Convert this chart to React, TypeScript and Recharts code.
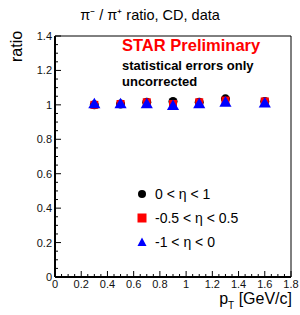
import { ScatterChart, Scatter, XAxis, YAxis, ZAxis, ErrorBar } from "recharts";

const PT = [0.3, 0.5, 0.7, 0.9, 1.1, 1.3, 1.6];
const ETA_POS = [1.0, 1.005, 1.015, 1.02, 1.015, 1.035, 1.02];
const ETA_MID = [1.0, 1.005, 1.015, 1.005, 1.015, 1.025, 1.02];
const ETA_NEG = [1.0, 1.0, 1.0, 0.99, 1.0, 1.01, 1.005];
const ERR = [0.005, 0.005, 0.006, 0.006, 0.006, 0.007, 0.007];

const X_TICKS = [0, 0.05, 0.1, 0.15, 0.2, 0.25, 0.3, 0.35, 0.4, 0.45, 0.5, 0.55, 0.6, 0.65, 0.7, 0.75, 0.8, 0.85, 0.9, 0.95, 1, 1.05, 1.1, 1.15, 1.2, 1.25, 1.3, 1.35, 1.4, 1.45, 1.5, 1.55, 1.6, 1.65, 1.7, 1.75, 1.8];
const Y_TICKS = [0, 0.05, 0.1, 0.15, 0.2, 0.25, 0.3, 0.35, 0.4, 0.45, 0.5, 0.55, 0.6, 0.65, 0.7, 0.75, 0.8, 0.85, 0.9, 0.95, 1, 1.05, 1.1, 1.15, 1.2, 1.25, 1.3, 1.35, 1.4];

const LEGEND = [
  { label: "0 < \u03b7 < 1", color: "#000", shape: "circle" },
  { label: "-0.5 < \u03b7 < 0.5", color: "#f00", shape: "square" },
  { label: "-1 < \u03b7 < 0", color: "#00f", shape: "triangle" },
];

const font = "'Liberation Sans', Arial, sans-serif";

const toRows = (ys: number[]) => PT.map((x, i) => ({ x, y: ys[i], err: ERR[i] }));

// major tick every 0.2, minor every 0.05; ticks point into the frame
const isMajor = (v: number) => Math.abs(v * 5 - Math.round(v * 5)) < 1e-6;

function XTick(props: any) {
  const { x, y, payload } = props;
  const major = isMajor(payload.value);
  return (
    <g>
      <line x1={x} x2={x} y1={y} y2={y - (major ? 6 : 3)} stroke="#000" />
      {major && (
        <text x={x} y={y + 11} textAnchor="middle" fontSize={11} fill="#111" fontFamily={font}>
          {payload.value}
        </text>
      )}
    </g>
  );
}

function YTick(props: any) {
  const { x, y, payload } = props;
  const major = isMajor(payload.value);
  return (
    <g>
      <line x1={x} x2={x + (major ? 6 : 3)} y1={y} y2={y} stroke="#000" />
      {major && (
        <text x={x - 3} y={y + 4} textAnchor="end" fontSize={11} fill="#111" fontFamily={font}>
          {payload.value}
        </text>
      )}
    </g>
  );
}

function Marker({ shape, color }: { shape: string; color: string }) {
  return (
    <svg width={12} height={12} style={{ display: "block" }}>
      {shape === "circle" && <circle cx={6} cy={6} r={4} fill={color} />}
      {shape === "square" && <rect x={1.5} y={1.5} width={9} height={9} fill={color} />}
      {shape === "triangle" && <polygon points="6,1.5 10.5,10 1.5,10" fill={color} />}
    </svg>
  );
}

export default function App() {
  return (
    <div style={{ position: "absolute", left: 0, top: 0, width: 300, height: 315, background: "#fff", fontFamily: font }}>
      <ScatterChart width={300} height={315} margin={{ top: 35, right: 8, bottom: 0, left: 0 }}>
        <XAxis xAxisId="main" type="number" dataKey="x" domain={[0, 1.8]} ticks={X_TICKS} interval={0} height={38}
          axisLine={{ stroke: "#000", strokeWidth: 2 }} tickSize={0} tickMargin={0} tickLine={false} tick={<XTick />} allowDataOverflow />
        <XAxis xAxisId="top" orientation="top" type="number" domain={[0, 1.8]} height={1}
          axisLine={{ stroke: "#000" }} tick={false} tickLine={false} />
        <YAxis yAxisId="main" type="number" dataKey="y" domain={[0, 1.4]} ticks={Y_TICKS} interval={0} width={55}
          axisLine={{ stroke: "#000", strokeWidth: 2 }} tickSize={0} tickMargin={0} tickLine={false} tick={<YTick />} allowDataOverflow />
        <YAxis yAxisId="right" orientation="right" type="number" domain={[0, 1.4]} width={1}
          axisLine={{ stroke: "#000" }} tick={false} tickLine={false} />
        <ZAxis range={[80, 80]} />
        <Scatter xAxisId="main" yAxisId="main" data={toRows(ETA_POS)} fill="#000" shape="circle" isAnimationActive={false}>
          <ErrorBar dataKey="err" direction="y" width={0} stroke="#000" />
        </Scatter>
        <Scatter xAxisId="main" yAxisId="main" data={toRows(ETA_MID)} fill="#f00" shape="square" isAnimationActive={false}>
          <ErrorBar dataKey="err" direction="y" width={0} stroke="#f00" />
        </Scatter>
        <Scatter xAxisId="main" yAxisId="main" data={toRows(ETA_NEG)} fill="#00f" shape="triangle" isAnimationActive={false}>
          <ErrorBar dataKey="err" direction="y" width={0} stroke="#66f" />
        </Scatter>
      </ScatterChart>

      <div style={{ position: "absolute", left: 0, width: 300, top: 4, textAlign: "center", fontSize: 14.5 }}>
        {"\u03c0\u207b / \u03c0\u207a ratio, CD, data"}
      </div>
      <div style={{ position: "absolute", left: 8, top: 62, fontSize: 16, transform: "rotate(-90deg)", transformOrigin: "0 0", whiteSpace: "nowrap" }}>
        ratio
      </div>
      <div style={{ position: "absolute", right: 8, top: 290, fontSize: 16, whiteSpace: "nowrap" }}>
        p<span style={{ fontSize: 10, position: "relative", top: 5 }}>T</span> [GeV/c]
      </div>
      <div style={{ position: "absolute", left: 122, top: 36, fontSize: 16.5, fontWeight: "bold", color: "#f00", whiteSpace: "nowrap" }}>
        STAR Preliminary
      </div>
      <div style={{ position: "absolute", left: 122, top: 58, fontSize: 13, fontWeight: "bold", lineHeight: "16px", color: "#000" }}>
        statistical errors only<br />uncorrected
      </div>
      <div style={{ position: "absolute", left: 136, top: 182 }}>
        {LEGEND.map((item) => (
          <div key={item.label} style={{ display: "flex", alignItems: "center", height: 24, fontSize: 14 }}>
            <Marker shape={item.shape} color={item.color} />
            <span style={{ marginLeft: 7 }}>{item.label}</span>
          </div>
        ))}
      </div>
    </div>
  );
}
